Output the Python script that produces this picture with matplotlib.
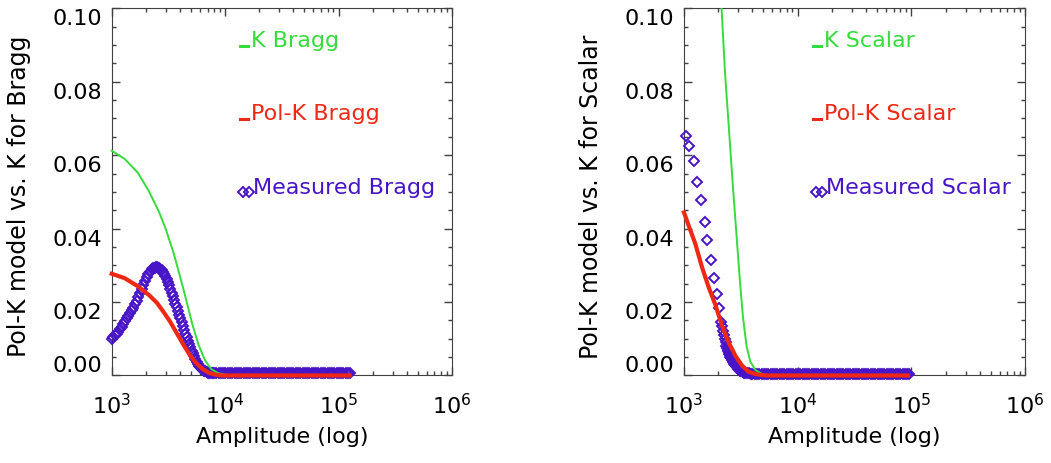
import numpy as np
import matplotlib.pyplot as plt
from matplotlib.ticker import LogLocator, NullFormatter

plt.rcParams['font.family'] = ['DejaVu Sans']
plt.rcParams['mathtext.default'] = 'regular'

# ---- Bragg panel (left) ----
bragg_k_amp = [1000, 1300, 1700, 2100, 2600, 3000, 3500, 4000, 4500, 5100,
               5800, 6600, 7500, 8700, 10000, 11500, 20000, 50000, 125000]
bragg_k_val = [0.0612, 0.0590, 0.0552, 0.0505, 0.0447, 0.0398, 0.0335, 0.0270,
               0.0210, 0.0143, 0.0085, 0.0043, 0.0018, 0.0006, 0.0002, 0.0,
               0.0, 0.0, 0.0]

bragg_polk_amp = [1000, 1300, 1700, 2150, 2500, 2850, 3250, 3750, 4300, 4850,
                  5500, 6300, 7200, 8300, 9500, 20000, 50000, 125000]
bragg_polk_val = [0.0277, 0.0265, 0.0243, 0.0218, 0.0198, 0.0174, 0.0148,
                  0.0115, 0.0083, 0.0057, 0.0035, 0.0018, 0.0007, 0.0002,
                  0.0, 0.0, 0.0, 0.0]

bragg_meas_amp = [1000, 1035, 1070, 1105, 1140, 1180, 1220, 1265, 1310, 1355,
                  1400, 1450, 1500, 1550, 1600, 1660, 1720, 1780, 1840, 1900,
                  1970, 2030, 2100, 2170, 2250, 2320, 2400, 2450, 2500, 2560,
                  2620, 2680, 2750, 2820, 2900, 2970, 3050, 3130, 3210, 3290,
                  3380, 3460, 3550, 3640, 3740, 3830, 3930, 4030, 4140, 4240,
                  4350, 4460, 4580, 4690, 4810, 4940, 5070, 5200, 5330, 5470,
                  5610, 5750, 5900, 6050, 6210, 6370, 6530, 6700, 6870, 7040,
                  7220, 7410, 7600, 7800]
bragg_meas_val = [0.0099, 0.0104, 0.0109, 0.0114, 0.0119, 0.0126, 0.0133,
                  0.0141, 0.0149, 0.0156, 0.0163, 0.0170, 0.0177, 0.0185,
                  0.0194, 0.0203, 0.0213, 0.0224, 0.0236, 0.0247, 0.0258,
                  0.0267, 0.0276, 0.0283, 0.0290, 0.0292, 0.0294, 0.0295,
                  0.0295, 0.0294, 0.0292, 0.0289, 0.0286, 0.0281, 0.0276,
                  0.0270, 0.0263, 0.0255, 0.0246, 0.0236, 0.0226, 0.0216,
                  0.0206, 0.0196, 0.0186, 0.0176, 0.0166, 0.0156, 0.0145,
                  0.0134, 0.0124, 0.0114, 0.0104, 0.0095, 0.0086, 0.0077,
                  0.0068, 0.0060, 0.0052, 0.0045, 0.0038, 0.0032, 0.0027,
                  0.0022, 0.0018, 0.0015, 0.0013, 0.0011, 0.0009, 0.0008,
                  0.0007, 0.0006, 0.0006, 0.0006]
bragg_tail_amp = [8000, 8380, 8770, 9180, 9610, 10060, 10540, 11030, 11550,
                  12100, 12670, 13260, 13890, 14540, 15230, 15940, 16690,
                  17480, 18300, 19160, 20070, 21010, 22000, 23040, 24130,
                  25260, 26450, 27700, 29000, 30370, 31800, 33300, 34870,
                  36510, 38230, 40030, 41920, 43890, 45960, 48130, 50390,
                  52770, 55250, 57860, 60580, 63440, 66430, 69560, 72840,
                  76270, 79860, 83620, 87560, 91690, 96010, 100500, 105300,
                  110200, 115400, 120900, 125000]
bragg_tail_val = [0.0006] * len(bragg_tail_amp)

# ---- Scalar panel (right) ----
scalar_k_amp = [2000, 2140, 2300, 2500, 2700, 2900, 3100, 3300, 3550, 3830,
                4240, 4850, 5560, 10000, 30000, 93000]
scalar_k_val = [0.113, 0.100, 0.082, 0.066, 0.051, 0.038, 0.026, 0.016,
                0.008, 0.0038, 0.0015, 0.0004, 0.0, 0.0, 0.0, 0.0]

scalar_polk_amp = [1000, 1100, 1260, 1440, 1650, 1890, 2160, 2470, 2830, 3240,
                   3700, 4240, 4850, 5500, 10000, 30000, 93000]
scalar_polk_val = [0.0444, 0.0408, 0.0358, 0.0295, 0.0240, 0.0192, 0.0136,
                   0.0090, 0.0054, 0.0027, 0.0010, 0.0004, 0.0001, 0.0, 0.0,
                   0.0, 0.0]

scalar_meas_amp = [1040, 1110, 1215, 1300, 1420, 1520, 1590, 1740, 1835, 1940,
                   2050, 2130, 2165, 2200, 2240, 2280, 2320, 2360, 2390, 2420,
                   2445, 2470, 2500, 2530, 2560, 2590, 2625, 2660, 2695, 2730,
                   2780, 2830, 2880, 2930, 2980, 3030, 3080, 3130, 3200, 3280,
                   3370, 3460, 3580, 3700, 3850]
scalar_meas_val = [0.0651, 0.0626, 0.0583, 0.0526, 0.0479, 0.0419, 0.0369,
                   0.0315, 0.0265, 0.0222, 0.0183, 0.0146, 0.0134, 0.0122,
                   0.0110, 0.0099, 0.0090, 0.0081, 0.0076, 0.0071, 0.0067,
                   0.0063, 0.0059, 0.0055, 0.0051, 0.0047, 0.0044, 0.0041,
                   0.0038, 0.0036, 0.0032, 0.0029, 0.0025, 0.0022, 0.0019,
                   0.0017, 0.0015, 0.0013, 0.0011, 0.0010, 0.0008, 0.0007,
                   0.0006, 0.0006, 0.0005]
scalar_tail_amp = [4000, 4190, 4390, 4590, 4810, 5040, 5270, 5520, 5780, 6060,
                   6340, 6640, 6950, 7280, 7630, 7990, 8370, 8760, 9170, 9610,
                   10060, 10540, 11030, 11550, 12100, 12670, 13260, 13890,
                   14540, 15230, 15940, 16690, 17480, 18300, 19160, 20070,
                   21010, 22000, 23040, 24130, 25260, 26450, 27700, 29000,
                   30370, 31800, 33300, 34870, 36510, 38230, 40030, 41920,
                   43890, 45960, 48130, 50390, 52770, 55250, 57860, 60580,
                   63440, 66430, 69560, 72840, 76270, 79860, 83620, 87560,
                   91690, 95000]
scalar_tail_val = [0.0005] * len(scalar_tail_amp)

x_ticks = [1e3, 1e4, 1e5, 1e6]
x_ticklabels = ['$10^{3}$', '$10^{4}$', '$10^{5}$', '$10^{6}$']
y_ticks = [0.0, 0.02, 0.04, 0.06, 0.08, 0.10]
y_minor = [0.005, 0.01, 0.015, 0.025, 0.03, 0.035, 0.045, 0.05, 0.055,
           0.065, 0.07, 0.075, 0.085, 0.09, 0.095]

green = '#35dc3c'
red = '#ee2814'
blue = '#4814c8'
axis_col = '#404040'
fs = 16

panels = [
    dict(name='Bragg', pos=[0.1063, 0.1886, 0.3238, 0.7914],
         k=(bragg_k_amp, bragg_k_val), polk=(bragg_polk_amp, bragg_polk_val),
         meas=(bragg_meas_amp + bragg_tail_amp, bragg_meas_val + bragg_tail_val)),
    dict(name='Scalar', pos=[0.6508, 0.1886, 0.3245, 0.7914],
         k=(scalar_k_amp, scalar_k_val), polk=(scalar_polk_amp, scalar_polk_val),
         meas=(scalar_meas_amp + scalar_tail_amp, scalar_meas_val + scalar_tail_val)),
]

fig = plt.figure(figsize=(10.51, 4.64), dpi=100)

for p in panels:
    ax = fig.add_axes(p['pos'])

    ax.plot(p['meas'][0], p['meas'][1], linestyle='none', marker='D', ms=4.6,
            mfc='none', mec=blue, mew=1.4, clip_on=False, zorder=3)
    # the Scalar K curve runs off the top, so only that one is clipped
    ax.plot(p['k'][0], p['k'][1], color=green, lw=1.4, zorder=4,
            clip_on=(p['name'] == 'Scalar'))
    ax.plot(p['polk'][0], p['polk'][1], color=red, lw=3.0, zorder=5,
            clip_on=False)

    # legend, IDL style
    ax.plot([0.377, 0.401], [0.898, 0.898], color=green, lw=2.2,
            transform=ax.transAxes)
    ax.text(0.410, 0.898, 'K ' + p['name'], color=green, fontsize=fs,
            va='baseline', transform=ax.transAxes)
    ax.plot([0.377, 0.401], [0.699, 0.699], color=red, lw=2.2,
            transform=ax.transAxes)
    ax.text(0.410, 0.699, 'Pol-K ' + p['name'], color=red, fontsize=fs,
            va='baseline', transform=ax.transAxes)
    ax.plot([0.387, 0.404], [0.499, 0.499], linestyle='none', marker='D',
            ms=4.6, mfc='none', mec=blue, mew=1.4, transform=ax.transAxes)
    ax.text(0.416, 0.497, 'Measured ' + p['name'], color=blue, fontsize=fs,
            va='baseline', transform=ax.transAxes)

    ax.set_xscale('log')
    ax.set_xlim(1e3, 1e6)
    ax.set_ylim(0, 0.10)
    ax.set_xticks(x_ticks)
    ax.set_xticklabels(x_ticklabels)
    ax.xaxis.set_minor_locator(LogLocator(base=10, subs=np.arange(2, 10)))
    ax.xaxis.set_minor_formatter(NullFormatter())
    ax.set_yticks(y_ticks)
    ax.set_yticklabels(['%.2f' % v for v in y_ticks])
    ax.set_yticks(y_minor, minor=True)

    ax.tick_params(which='both', direction='in', top=True, right=True,
                   color=axis_col, labelsize=fs)
    ax.tick_params(which='major', length=6, width=1)
    ax.tick_params(which='minor', length=3, width=1)
    ax.tick_params(axis='x', which='major', pad=12)
    ax.tick_params(axis='y', which='major', pad=7)
    for s in ax.spines.values():
        s.set_color(axis_col)

    ylabs = ax.get_yticklabels()
    for lab in ylabs[1:]:
        lab.set_va('top')
    ylabs[0].set_va('bottom')

    ax.set_xlabel('Amplitude (log)', fontsize=fs, va='baseline')
    ax.xaxis.set_label_coords(0.5, -0.181)
    ax.set_ylabel('Pol-K model vs. K for ' + p['name'], fontsize=17,
                  va='baseline')
    ax.yaxis.set_label_coords(-0.252, 0.49)

fig.savefig('out.png', dpi=100)
